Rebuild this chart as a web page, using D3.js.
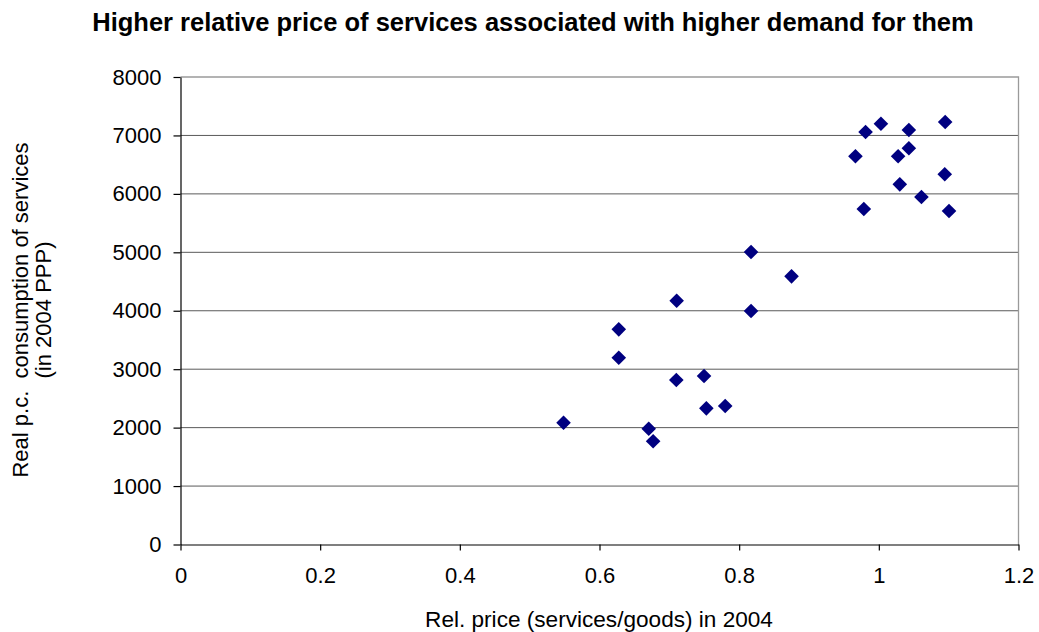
<!DOCTYPE html>
<html>
<head>
<meta charset="utf-8">
<script src="https://cdn.jsdelivr.net/npm/d3@7"></script>
<style>
  html, body { margin: 0; padding: 0; background: #fff; }
  svg { display: block; font-family: "Liberation Sans", Arial, sans-serif; }
</style>
</head>
<body>
<svg id="chart" width="1039" height="632"></svg>
<script>
// Relative price of services (x) vs real per-capita consumption of services (y), 2004
const relPrice = [
  0.5485, 0.6276, 0.6276, 0.6705, 0.6768, 0.7100, 0.7105, 0.7497, 0.7530, 0.7800,
  0.8170, 0.8170, 0.8750,
  0.9665, 0.9785, 0.9810, 1.0030, 1.0276, 1.0300, 1.0430, 1.0430, 1.0610, 1.0944,
  1.0950, 1.1005
];
const servicesConsumption = [
  2084, 3682, 3197, 1982, 1766, 2815, 4172, 2883, 2330, 2370,
  3995, 5005, 4589,
  6643, 5741, 7059, 7201, 6643, 6163, 7093, 6780, 5946, 6335,
  7230, 5707
];
const xTicks = [0, 0.2, 0.4, 0.6, 0.8, 1, 1.2];
const yTicks = [0, 1000, 2000, 3000, 4000, 5000, 6000, 7000, 8000];

const titleText = "Higher relative price of services associated with higher demand for them";
const xLabel = "Rel. price (services/goods) in 2004";
const yLabelLines = ["Real p.c.  consumption of services", "(in 2004 PPP)"];

const svg = d3.select("#chart");
const plot = { left: 180.5, right: 1018.5, top: 77, bottom: 544.5 };

const x = d3.scaleLinear().domain([0, 1.2]).range([plot.left, plot.right]);
const y = d3.scaleLinear().domain([0, 8000]).range([plot.bottom, plot.top]);

// horizontal gridlines
svg.append("g")
  .selectAll("line")
  .data(yTicks.filter(v => v > 0 && v < 8000))
  .join("line")
  .attr("x1", plot.left).attr("x2", plot.right)
  .attr("y1", d => y(d)).attr("y2", d => y(d))
  .attr("stroke", "#5a5a5a").attr("stroke-width", 1);

// plot area border (top and right)
svg.append("path")
  .attr("d", `M${plot.left},${y(8000)}H${plot.right}V${plot.bottom}`)
  .attr("fill", "none").attr("stroke", "#9a9a9a").attr("stroke-width", 1.3);

// axes
const xAxis = d3.axisBottom(x).tickValues(xTicks).tickSizeInner(6).tickSizeOuter(0)
  .tickPadding(17).tickFormat(d3.format("~g"));
const yAxis = d3.axisLeft(y).tickValues(yTicks).tickSizeInner(7).tickSizeOuter(0)
  .tickPadding(12).tickFormat(d3.format("d"));

const gx = svg.append("g").attr("transform", `translate(0,${plot.bottom})`).call(xAxis);
const gy = svg.append("g").attr("transform", `translate(${plot.left},0)`).call(yAxis);

[gx, gy].forEach(g => {
  g.select(".domain").attr("stroke", "#000").attr("stroke-width", 1.2);
  g.selectAll(".tick line").attr("stroke", "#000").attr("stroke-width", 1.2);
  g.selectAll(".tick text")
    .attr("font-family", "'Liberation Sans', Arial, sans-serif")
    .attr("font-size", 22).attr("fill", "#000");
});

// diamond markers
const r = 7.3;
svg.append("g")
  .selectAll("path")
  .data(relPrice.map((v, i) => [v, servicesConsumption[i]]))
  .join("path")
  .attr("d", d => {
    const cx = x(d[0]), cy = y(d[1]);
    return `M${cx},${cy - r}L${cx + r},${cy}L${cx},${cy + r}L${cx - r},${cy}Z`;
  })
  .attr("fill", "#000080");

// title
svg.append("text")
  .attr("x", 533).attr("y", 31)
  .attr("text-anchor", "middle")
  .attr("font-size", 25.5).attr("font-weight", "bold")
  .text(titleText);

// x-axis title
svg.append("text")
  .attr("x", 599).attr("y", 627)
  .attr("text-anchor", "middle")
  .attr("font-size", 22.6)
  .text(xLabel);

// y-axis title (two lines)
const yt = svg.append("text")
  .attr("transform", "translate(0,310) rotate(-90)")
  .attr("text-anchor", "middle")
  .attr("font-size", 22)
  .style("white-space", "pre");
yt.selectAll("tspan")
  .data(yLabelLines)
  .join("tspan")
  .attr("x", 0)
  .attr("y", (d, i) => 28 + i * 23)
  .text(d => d);
</script>
</body>
</html>
